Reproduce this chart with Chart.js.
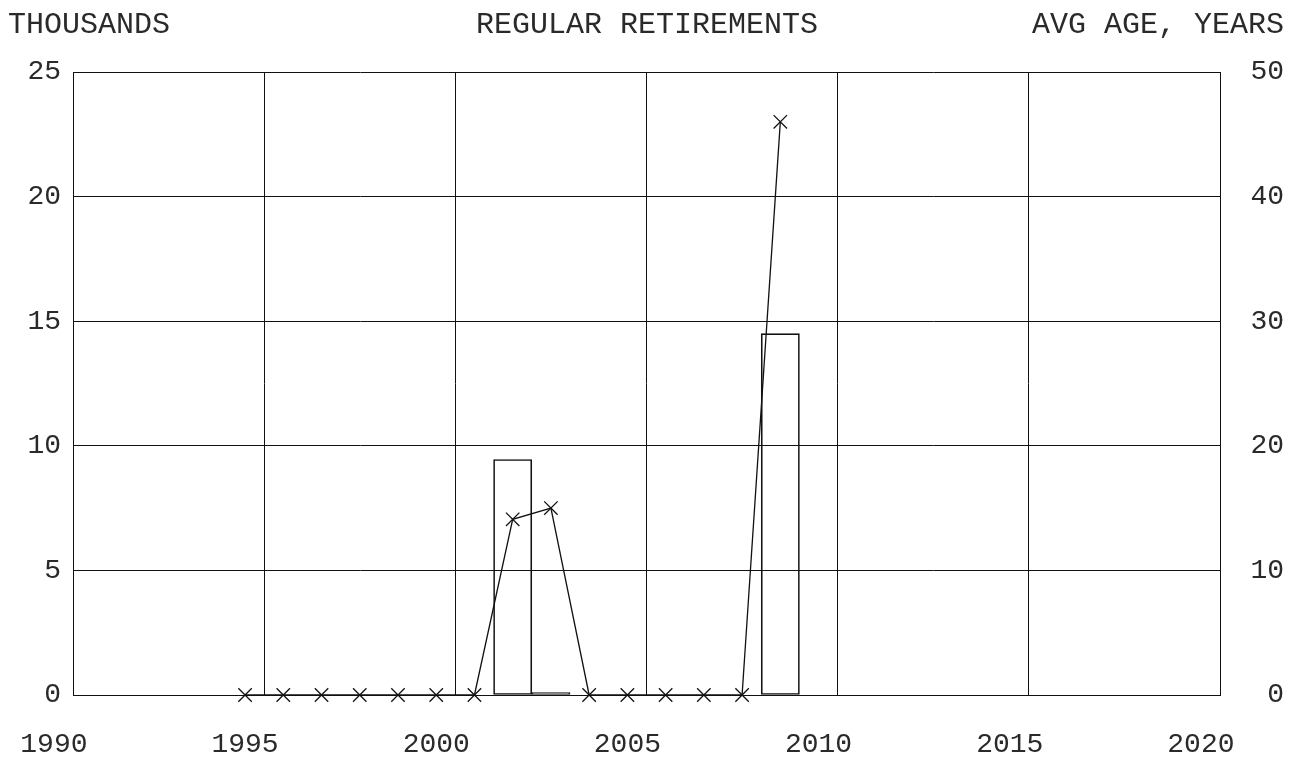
<!DOCTYPE html>
<html>
<head>
<meta charset="utf-8">
<title>Regular Retirements</title>
<script src="https://cdn.jsdelivr.net/npm/chart.js@4/dist/chart.umd.min.js"></script>
<style>
  html, body { margin: 0; padding: 0; background: #fff; }
  #wrap { width: 1292px; height: 758px; position: relative; }
</style>
</head>
<body>
<div id="wrap"><canvas id="chart"></canvas></div>
<script>
  // ── Data ──────────────────────────────────────────
  const years = [1995, 1996, 1997, 1998, 1999, 2000, 2001, 2002, 2003, 2004, 2005, 2006, 2007, 2008, 2009];
  const retirements = [0, 0, 0, 0, 0, 0, 0, 9.45, 0.1, 0, 0, 0, 0, 0, 14.5];   // thousands
  const avgAge = [0, 0, 0, 0, 0, 0, 0, 14.1, 15.0, 0, 0, 0, 0, 0, 46];         // years
  const xTickYears = [1990, 1995, 2000, 2005, 2010, 2015, 2020];

  const titleLeft = "THOUSANDS";
  const titleCenter = "REGULAR RETIREMENTS";
  const titleRight = "AVG AGE, YEARS";

  // ── Style ─────────────────────────────────────────
  const INK = "#111";
  const TEXT = "#2a2a2a";
  const FONT = "'Liberation Mono', 'DejaVu Sans Mono', monospace";

  // header texts across the top
  const headerPlugin = {
    id: "header",
    afterDraw(chart) {
      const ctx = chart.ctx;
      ctx.save();
      ctx.fillStyle = TEXT;
      ctx.font = "30px " + FONT;
      ctx.textBaseline = "alphabetic";
      ctx.textAlign = "left";
      ctx.fillText(titleLeft, 8, 33);
      ctx.textAlign = "center";
      ctx.fillText(titleCenter, 647, 33);
      ctx.textAlign = "right";
      ctx.fillText(titleRight, 1284, 33);
      ctx.restore();
    }
  };

  const fixSize = (w, h) => (scale) => {
    if (w != null) scale.width = w;
    if (h != null) scale.height = h;
  };

  new Chart(document.getElementById("chart"), {
    data: {
      datasets: [
        {
          type: "line",
          label: "Avg age",
          yAxisID: "y2",
          data: years.map((yr, i) => ({ x: yr, y: avgAge[i] })),
          borderColor: INK,
          borderWidth: 1.3,
          tension: 0,
          pointStyle: "crossRot",
          pointRadius: 9.5,
          pointBorderWidth: 1.3,
          pointBorderColor: INK,
          clip: false,
          order: 0
        },
        {
          type: "bar",
          label: "Retirements",
          yAxisID: "y",
          data: years.map((yr, i) => ({ x: yr, y: retirements[i] })),
          backgroundColor: "rgba(0,0,0,0)",
          borderColor: INK,
          borderWidth: 1,
          borderSkipped: false,
          barPercentage: 1,
          categoryPercentage: 1,
          order: 1
        }
      ]
    },
    options: {
      responsive: true,
      maintainAspectRatio: false,
      animation: false,
      layout: { padding: { top: 72, left: 0, right: 8, bottom: 0 } },
      plugins: { legend: { display: false }, tooltip: { enabled: false } },
      scales: {
        x: {
          type: "linear",
          min: 1990.5,
          max: 2020.5,
          offset: false,
          afterBuildTicks: (scale) => { scale.ticks = xTickYears.map(v => ({ value: v + 0.5 })); },
          afterFit: fixSize(null, 63),
          grid: { color: INK, lineWidth: 1, drawTicks: false, offset: false },
          border: { color: INK, width: 1 },
          ticks: {
            color: TEXT,
            font: { family: FONT, size: 28 },
            padding: 33,
            labelOffset: -19.1,
            maxRotation: 0,
            autoSkip: false,
            callback: (v) => String(Math.round(v - 0.5))
          }
        },
        y: {
          position: "left",
          min: 0,
          max: 25,
          afterFit: fixSize(73, null),
          grid: { color: INK, lineWidth: 1, drawTicks: false },
          border: { color: INK, width: 1 },
          ticks: {
            stepSize: 5,
            color: TEXT,
            font: { family: FONT, size: 28 },
            padding: 12
          }
        },
        y2: {
          position: "right",
          min: 0,
          max: 50,
          afterFit: fixSize(64, null),
          grid: { display: false, drawTicks: false },
          border: { color: INK, width: 1 },
          ticks: {
            stepSize: 10,
            color: TEXT,
            font: { family: FONT, size: 28 },
            crossAlign: "far",
            padding: 10
          }
        }
      }
    },
    plugins: [headerPlugin]
  });
</script>
</body>
</html>
